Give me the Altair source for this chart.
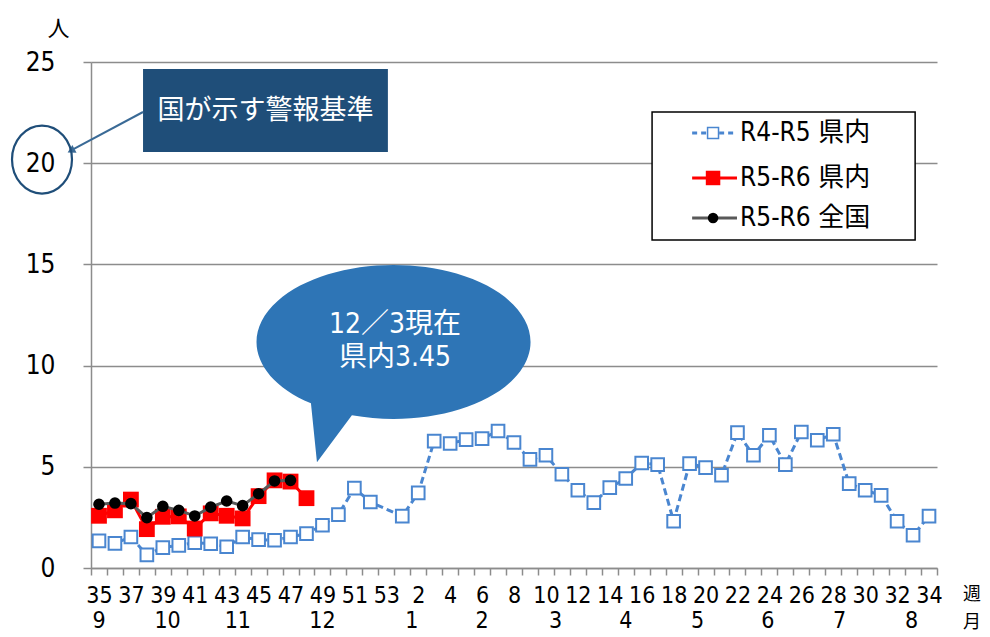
import json
import altair as alt
import pandas as pd

# ---------------- data ----------------
weeks = list(range(35, 54)) + list(range(1, 35))          # 53 week slots, week 35 .. week 34
shown_weeks = [35, 37, 39, 41, 43, 45, 47, 49, 51, 53, 2, 4, 6, 8, 10, 12, 14, 16,
               18, 20, 22, 24, 26, 28, 30, 32, 34]
r4r5_pref = [1.34, 1.22, 1.53, 0.65, 1.01, 1.12, 1.25, 1.20, 1.05, 1.53, 1.40, 1.37, 1.53,
             1.70, 2.11, 2.64, 3.95, 3.26, None,
             2.56, 3.71, 6.27, 6.15, 6.34, 6.39, 6.77, 6.20, 5.37, 5.57, 4.63, 3.84, 3.23,
             3.97, 4.42, 5.19, 5.11, 2.31, 5.16, 4.96, 4.58, 6.69, 5.57, 6.56, 5.11, 6.72,
             6.31, 6.61, 4.17, 3.84, 3.59, 2.31, 1.62, 2.56]
r5r6_pref = [2.58, 2.85, 3.38, 1.92, 2.53, 2.55, 1.95, 2.70, 2.58, 2.45, 3.55, 4.33, 4.27, 3.45]
r5r6_nat = [3.15, 3.21, 3.18, 2.49, 3.05, 2.85, 2.57, 3.01, 3.31, 3.08, 3.67, 4.30, 4.33]
months = ["9", "10", "11", "12", "1", "2", "3", "4", "5", "6", "7", "8"]
month_pos = [0, 4.3, 8.7, 14, 19.6, 24, 28.6, 33, 37.5, 41.9, 46.4, 50.9]
series_names = ["R4-R5 県内", "R5-R6 県内", "R5-R6 全国"]
y_ticks = [0, 5, 10, 15, 20, 25]
x_unit_labels = ["週", "月"]

# ---------------- styling ----------------
FONT = "Liberation Sans Narrow, DejaVu Sans Condensed, Noto Sans CJK JP, sans-serif"
CJK = "Noto Sans CJK JP, sans-serif"
GRID = "#8c8c8c"
BLUE = "#4a86d0"
RED = "#ff0000"
GRAY = "#595959"
NAVY = "#1f4e79"
BUBBLE = "#2e75b6"
W, H = 846, 506


def make_df(values):
    rows = [{"idx": i, "week": weeks[i], "v": v} for i, v in enumerate(values) if v is not None]
    return pd.DataFrame(rows)


bounds = [i - 0.5 for i in range(len(weeks) + 1)]
label_expr = (
    f"indexof({json.dumps(shown_weeks)}, {json.dumps(weeks)}[datum.value + 0.5]) >= 0 ? "
    f"'' + {json.dumps(weeks)}[datum.value + 0.5] : ''"
)

xscale = alt.Scale(domain=[-0.5, len(weeks) - 0.5], nice=False, zero=False)
yscale = alt.Scale(domain=[0, 25], nice=False, zero=True)

xaxis = alt.Axis(
    values=bounds, labelExpr=label_expr, labelOffset=W / len(weeks) / 2,
    labelOverlap=False, labelFlush=False, labelAngle=0,
    tickSize=7, tickColor=GRID, tickWidth=1.5, domainColor=GRID, domainWidth=1.5,
    grid=False, labelFont=FONT, labelFontSize=23, labelColor="black", labelPadding=9,
    title=None,
)
yaxis = alt.Axis(
    values=y_ticks, grid=True, gridColor=GRID, gridWidth=1.5,
    tickSize=8, tickColor=GRID, tickWidth=1.5, domainColor=GRID, domainWidth=1.5,
    labelFont=FONT, labelFontSize=26, labelPadding=28, labelColor="black",
    title="人", titleFont=CJK, titleFontSize=22, titleFontWeight="normal", titleColor="black",
    titleAngle=0, titleX=-33, titleY=-34, titleAlign="center", titleBaseline="middle",
)


def X(field="idx"):
    return alt.X(f"{field}:Q", scale=xscale, axis=xaxis)


def Y(field="v"):
    return alt.Y(f"{field}:Q", scale=yscale, axis=yaxis)


layers = []

# ---- series ----
d1 = make_df(r4r5_pref)
layers.append(alt.Chart(d1).mark_line(color=BLUE, strokeWidth=3, strokeDash=[7, 4]).encode(x=X(), y=Y()))
layers.append(alt.Chart(d1).mark_point(shape="square", filled=True, fill="white", stroke=BLUE,
                                       strokeWidth=2, size=160, opacity=1).encode(x=X(), y=Y()))
d2 = make_df(r5r6_pref)
layers.append(alt.Chart(d2).mark_line(color=RED, strokeWidth=3).encode(x=X(), y=Y()))
layers.append(alt.Chart(d2).mark_point(shape="square", filled=True, color=RED, size=250,
                                       opacity=1).encode(x=X(), y=Y()))
d3 = make_df(r5r6_nat)
layers.append(alt.Chart(d3).mark_line(color=GRAY, strokeWidth=3).encode(x=X(), y=Y()))
layers.append(alt.Chart(d3).mark_point(shape="circle", filled=True, color="black", size=135,
                                       opacity=1).encode(x=X(), y=Y()))

# ---- month labels (second row under week labels) ----
mdf = pd.DataFrame({"idx": month_pos, "m": months})
layers.append(alt.Chart(mdf).mark_text(font=FONT, fontSize=23, color="black", baseline="middle")
              .encode(x=X(), y=alt.value(H + 53), text="m:N"))

# ---- unit labels 週 / 月 at the right end of the axis ----
udf = pd.DataFrame({"idx": [54.7], "t": [x_unit_labels[0]]})
layers.append(alt.Chart(udf).mark_text(font=CJK, fontSize=18, color="black", baseline="middle")
              .encode(x=X(), y=alt.value(H + 27), text="t:N"))
udf2 = pd.DataFrame({"idx": [54.7], "t": [x_unit_labels[1]]})
layers.append(alt.Chart(udf2).mark_text(font=CJK, fontSize=18, color="black", baseline="middle")
              .encode(x=X(), y=alt.value(H + 55), text="t:N"))

# ---- callout: 国が示す警報基準 ----
box = pd.DataFrame({"idx": [2.76], "idx2": [18.1], "v": [24.65], "v2": [20.55]})
layers.append(alt.Chart(box).mark_rect(color=NAVY).encode(x=X(), x2="idx2:Q", y=Y(), y2="v2:Q"))
btxt = pd.DataFrame({"idx": [10.43], "v": [22.6], "t": ["国が示す警報基準"]})
layers.append(alt.Chart(btxt).mark_text(font=CJK, fontSize=27, color="white")
              .encode(x=X(), y=Y(), text="t:N"))
arrow = pd.DataFrame({"idx": [2.76], "v": [22.53], "idx2": [-1.6], "v2": [20.7]})
layers.append(alt.Chart(arrow).mark_rule(color="#3a6a96", strokeWidth=2)
              .encode(x=X(), y=Y(), x2="idx2:Q", y2="v2:Q"))
head = pd.DataFrame({"idx": [-1.75], "v": [20.62]})
layers.append(alt.Chart(head).mark_point(shape="triangle-up", filled=True, color="#3a6a96",
                                         size=80, opacity=1, angle=242).encode(x=X(), y=Y()))
ring = pd.DataFrame({"idx": [-3.57], "v": [20.18]})
ring_path = "M 0.882 0 A 0.882 1 0 1 1 -0.882 0 A 0.882 1 0 1 1 0.882 0 Z"
layers.append(alt.Chart(ring).mark_point(shape=ring_path, filled=False, stroke=NAVY, strokeWidth=2.2,
                                         size=68 * 68, opacity=1).encode(x=X(), y=Y()))

# ---- speech bubble ----
bubble = pd.DataFrame({"idx": [18.42], "v": [11.2]})
bubble_path = ("M -0.599 0.453 L -0.555 0.883 L -0.30 0.54 "
               "A 1 0.562 0 1 0 -0.599 0.453 Z")
layers.append(alt.Chart(bubble).mark_point(shape=bubble_path, filled=True, color=BUBBLE,
                                           size=274 * 274, opacity=1, strokeWidth=0)
              .encode(x=X(), y=Y()))
bt = pd.DataFrame({"idx": [18.55, 18.55], "v": [12.0, 10.38], "t": ["12／3現在", "県内3.45"]})
layers.append(alt.Chart(bt).mark_text(font=FONT, fontSize=28, color="white")
              .encode(x=X(), y=Y(), text="t:N"))

# ---- legend ----
lbox = pd.DataFrame({"idx": [34.65], "idx2": [51.13], "v": [22.53], "v2": [16.2]})
layers.append(alt.Chart(lbox).mark_rect(fill="white", stroke="black", strokeWidth=1.5)
              .encode(x=X(), x2="idx2:Q", y=Y(), y2="v2:Q"))
rows_v = [21.49, 19.27, 17.29]
line_x0, line_x1, mark_x, text_x = 37.16, 39.97, 38.47, 40.16
styles = [
    dict(line=dict(color=BLUE, strokeWidth=3, strokeDash=[5, 4]),
         pt=dict(shape="square", filled=True, fill="white", stroke=BLUE, strokeWidth=1.5, size=120)),
    dict(line=dict(color=RED, strokeWidth=3),
         pt=dict(shape="square", filled=True, color=RED, size=210)),
    dict(line=dict(color=GRAY, strokeWidth=3),
         pt=dict(shape="circle", filled=True, color="black", size=110)),
]
for name, rv, st in zip(series_names, rows_v, styles):
    ldf = pd.DataFrame({"idx": [line_x0], "idx2": [line_x1], "v": [rv]})
    layers.append(alt.Chart(ldf).mark_rule(**st["line"]).encode(x=X(), x2="idx2:Q", y=Y()))
    pdf = pd.DataFrame({"idx": [mark_x], "v": [rv]})
    layers.append(alt.Chart(pdf).mark_point(opacity=1, **st["pt"]).encode(x=X(), y=Y()))
    tdf = pd.DataFrame({"idx": [text_x], "v": [rv], "t": [name]})
    layers.append(alt.Chart(tdf).mark_text(font=FONT, fontSize=26, color="black", align="left")
                  .encode(x=X(), y=Y(), text="t:N"))

chart = alt.layer(*layers).properties(
    width=W, height=H,
    autosize=alt.AutoSizeParams(type="none"),
    padding={"left": 83, "top": 54, "right": 45, "bottom": 66},
    background="white",
).configure_view(strokeWidth=0)

chart.save("out.html", embed_options={"renderer": "svg", "actions": False})
